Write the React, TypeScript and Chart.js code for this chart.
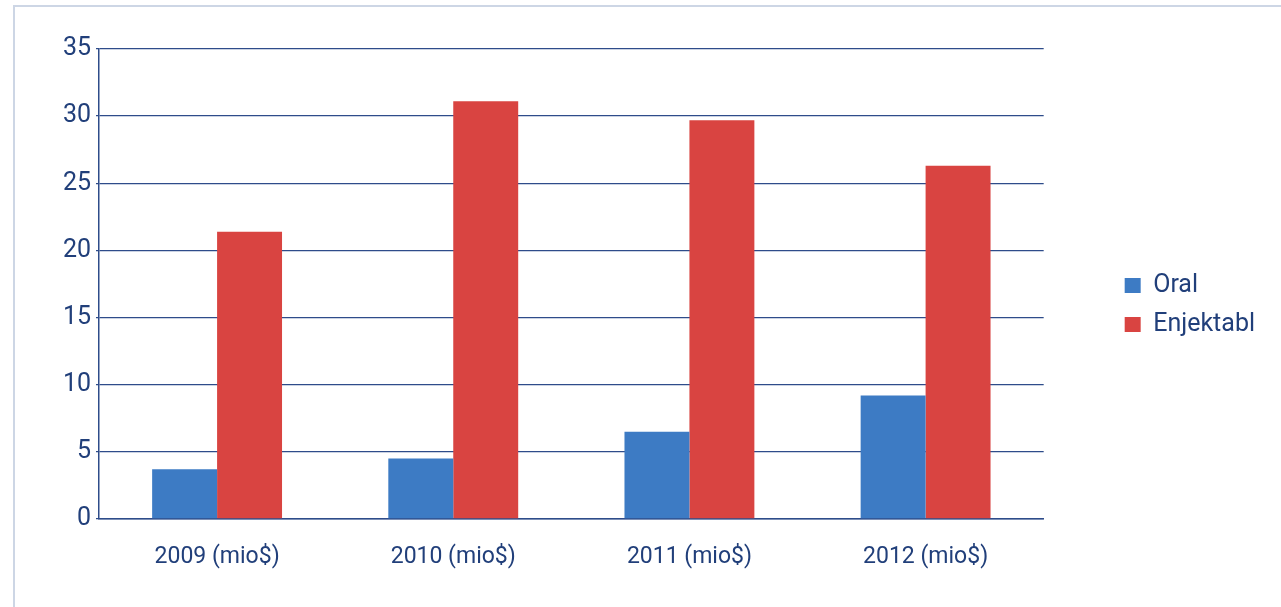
import React, { useEffect, useRef } from "react";
import { Chart, registerables } from "chart.js";

Chart.register(...registerables);

const categories = ["2009 (mio$)", "2010 (mio$)", "2011 (mio$)", "2012 (mio$)"];
const oralValues = [3.7, 4.5, 6.5, 9.2];
const enjektablValues = [21.4, 31.1, 29.7, 26.3];
const seriesNames = ["Oral", "Enjektabl"];
const yMin = 0;
const yMax = 35;
const yStep = 5;

const NAVY = "#213f7a";
const GRID = "#2e4c8a";
const BLUE = "#3d7bc4";
const RED = "#d94441";
const FONT = "Roboto";

export default function App() {
  const ref = useRef<HTMLCanvasElement | null>(null);

  useEffect(() => {
    if (!ref.current) return;
    const mctx = document.createElement("canvas").getContext("2d")!;
    mctx.font = `25px ${FONT}`;
    const textW = Math.max(...seriesNames.map((s) => mctx.measureText(s).width));
    const padRight = Math.max(0, Math.round(118 - textW));

    const chart = new Chart(ref.current, {
      type: "bar",
      data: {
        labels: categories,
        datasets: [
          { label: seriesNames[0], data: oralValues, backgroundColor: BLUE, borderWidth: 0 },
          { label: seriesNames[1], data: enjektablValues, backgroundColor: RED, borderWidth: 0 },
        ],
      },
      options: {
        animation: false,
        responsive: false,
        maintainAspectRatio: false,
        layout: { padding: { top: 49, left: 0, bottom: 0, right: padRight } },
        datasets: { bar: { categoryPercentage: 0.55, barPercentage: 1 } },
        plugins: {
          tooltip: { enabled: false },
          legend: {
            position: "right",
            align: "center",
            fullSize: false,
            title: {
              display: true,
              text: "",
              padding: { top: 18, bottom: 0 },
              font: { family: FONT, size: 24, lineHeight: 1 },
            },
            labels: {
              boxWidth: 16,
              boxHeight: 15,
              padding: 14,
              color: NAVY,
              font: { family: FONT, size: 25 },
            },
          },
        },
        scales: {
          x: {
            grid: { display: false, drawTicks: false },
            border: { display: true, color: GRID, width: 1.5 },
            ticks: { color: NAVY, font: { family: FONT, size: 23 }, padding: 24 },
            afterFit: (s: any) => {
              s.height = 88;
            },
          },
          y: {
            min: yMin,
            max: yMax,
            ticks: { stepSize: yStep, color: NAVY, font: { family: FONT, size: 25 }, padding: 5 },
            grid: { color: GRID, lineWidth: 1.3, tickLength: 3 },
            border: { display: true, color: GRID, width: 1.5 },
            afterFit: (s: any) => {
              s.width = 99;
            },
          },
          y2: {
            position: "right",
            display: true,
            grid: { display: false, drawTicks: false },
            border: { display: false },
            ticks: { display: false },
            afterFit: (s: any) => {
              s.width = 67;
            },
          },
        },
      },
    });
    return () => chart.destroy();
  }, []);

  return (
    <div style={{ position: "fixed", left: 0, top: 0, width: 1281, height: 607, background: "#fff", overflow: "hidden" }}>
      <div
        style={{
          position: "absolute",
          left: 13,
          top: 5,
          width: 1300,
          height: 640,
          border: "2px solid #cdd6e5",
          boxSizing: "border-box",
        }}
      />
      <canvas ref={ref} width={1281} height={607} style={{ position: "absolute", left: 0, top: 0, display: "block" }} />
    </div>
  );
}
